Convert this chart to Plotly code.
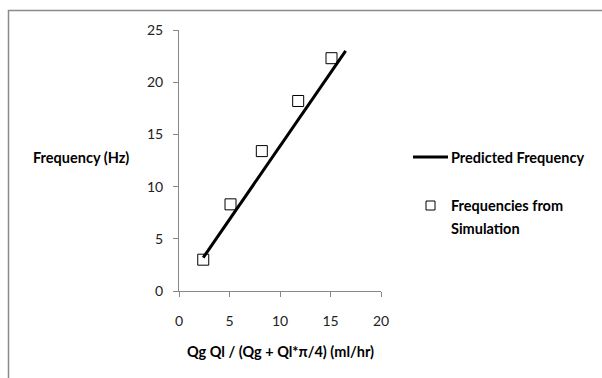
import plotly.graph_objects as go

# Data
sim_x = [2.4, 5.1, 8.2, 11.8, 15.1]
sim_y = [3.0, 8.3, 13.4, 18.2, 22.3]
pred_x = [2.4, 16.5]
pred_y = [3.2, 23.0]

x_ticks = [0, 5, 10, 15, 20]
y_ticks = [0, 5, 10, 15, 20, 25]

FONT = "Lato"
W, H = 602, 378
L, R, T, B = 179, 221, 30, 87
PW, PH = W - L - R, H - T - B


def px2paper(x, y):
    return (x - L) / PW, (H - B - y) / PH


fig = go.Figure()
fig.add_trace(go.Scatter(x=pred_x, y=pred_y, mode="lines",
                         line=dict(color="black", width=3),
                         name="Predicted Frequency", showlegend=False))
fig.add_trace(go.Scatter(x=sim_x, y=sim_y, mode="markers",
                         marker=dict(symbol="square-open", size=11,
                                     color="black", line=dict(width=1)),
                         name="Frequencies from Simulation", showlegend=False))

axis_common = dict(showgrid=False, zeroline=False, showline=True,
                   linecolor="#888888", linewidth=1, ticks="outside",
                   ticklen=5, tickcolor="#888888",
                   tickfont=dict(family=FONT, size=14, color="#222222"))
fig.update_xaxes(range=[0, 20], tickvals=x_ticks, ticklabelstandoff=12,
                 **axis_common)
fig.update_yaxes(range=[0, 25], tickvals=y_ticks, ticklabelstandoff=7,
                 **axis_common)

shapes = []
# outer chart border
u0, v0 = px2paper(8.5, 10.5)
u1, v1 = px2paper(700, 460)
shapes.append(dict(type="rect", xref="paper", yref="paper",
                   x0=u0, y0=v1, x1=u1, y1=v0,
                   line=dict(color="#8a8a8a", width=1.5)))
# legend line sample
a0, b0 = px2paper(413, 157)
a1, _ = px2paper(448, 157)
shapes.append(dict(type="line", xref="paper", yref="paper",
                   x0=a0, y0=b0, x1=a1, y1=b0,
                   line=dict(color="black", width=3)))
# legend square
s0, t0 = px2paper(426, 210)
s1, t1 = px2paper(435, 201)
shapes.append(dict(type="rect", xref="paper", yref="paper",
                   x0=s0, y0=t0, x1=s1, y1=t1,
                   line=dict(color="black", width=1)))

annotations = []


def ann(text, x, y, xanchor="left", size=14.5):
    u, v = px2paper(x, y)
    annotations.append(dict(text=text, xref="paper", yref="paper", x=u, y=v,
                            xanchor=xanchor, yanchor="middle", showarrow=False,
                            font=dict(family=FONT, size=size, color="black")))


ann("<b>Frequency (Hz)</b>", 31, 157)
ann("<b>Qg Ql / (Qg + Ql*π/4) (ml/hr)</b>", 280, 351, xanchor="center")
ann("<b>Predicted Frequency</b>", 449, 157)
ann("<b>Frequencies from</b>", 449, 205)
ann("<b>Simulation</b>", 449, 228)

fig.update_layout(width=W, height=H,
                  margin=dict(l=L, r=R, t=T, b=B),
                  paper_bgcolor="white", plot_bgcolor="white",
                  shapes=shapes, annotations=annotations,
                  showlegend=False)

fig.write_html("out.html")
